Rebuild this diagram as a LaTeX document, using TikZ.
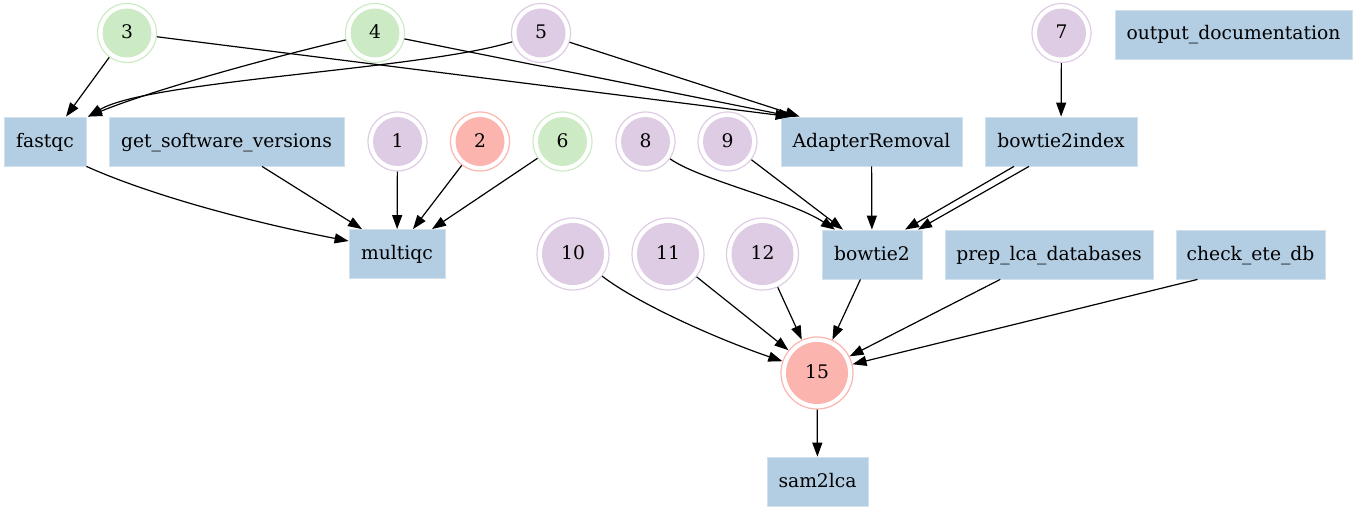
\documentclass[tikz,border=0pt]{standalone}
\usepackage{fontspec}
\setmainfont{DejaVu Serif}
\usetikzlibrary{arrows.meta,calc}
\definecolor{cgreen}{HTML}{CCEBC5}
\definecolor{cpurple}{HTML}{DECBE4}
\definecolor{cred}{HTML}{FBB4AE}
\definecolor{cblue}{HTML}{B3CDE3}
\begin{document}
\begin{tikzpicture}[x=1pt,y=-1pt,
  font=\fontsize{18.7}{22}\selectfont,
  box/.style={rectangle, fill=cblue, draw=cblue!60!white, line width=0.8pt, minimum height=49pt, inner sep=0pt, text height=14pt, text depth=3pt},
  sc/.style={circle, draw=#1, line width=1.2pt, minimum size=59pt, inner sep=0pt, text height=14pt, text depth=3pt,
    path picture={\fill[#1] (path picture bounding box.center) circle (24.5pt);}},
  bc/.style={circle, draw=#1, line width=1.2pt, minimum size=72pt, inner sep=0pt, text height=14pt, text depth=3pt,
    path picture={\fill[#1] (path picture bounding box.center) circle (31pt);}},
  arr/.style={-{Triangle[length=14pt,width=10pt]}, line width=1.2pt}]
\useasboundingbox (0,0) rectangle (1357,511);
% nodes
\node[sc=cgreen] (n3) at (127,33) {3};
\node[sc=cgreen] (n4) at (375,33) {4};
\node[sc=cpurple] (n5) at (541,33) {5};
\node[sc=cpurple] (n7) at (1061.5,33) {7};
\node[box, minimum width=237pt] (od) at (1233.5,34.5) {output\_documentation};
\node[box, minimum width=82pt] (fastqc) at (45,141.5) {fastqc};
\node[box, minimum width=235pt] (gsv) at (226.5,141.5) {get\_software\_versions};
\node[sc=cpurple] (n1) at (397.5,141.5) {1};
\node[sc=cred] (n2) at (480,141.5) {2};
\node[sc=cgreen] (n6) at (562.5,141.5) {6};
\node[sc=cpurple] (n8) at (645.5,141.5) {8};
\node[sc=cpurple] (n9) at (727.5,141.5) {9};
\node[box, minimum width=181pt] (ar) at (871.5,141.5) {AdapterRemoval};
\node[box, minimum width=152pt] (b2i) at (1061,141.5) {bowtie2index};
\node[box, minimum width=96pt] (mqc) at (397,254) {multiqc};
\node[bc=cpurple] (n10) at (573,254) {10};
\node[bc=cpurple] (n11) at (668,254) {11};
\node[bc=cpurple] (n12) at (762.5,254) {12};
\node[box, minimum width=100pt] (bt2) at (872,254.5) {bowtie2};
\node[box, minimum width=208pt] (prep) at (1049,254.5) {prep\_lca\_databases};
\node[box, minimum width=149pt] (ete) at (1250.5,254.5) {check\_ete\_db};
\node[bc=cred] (n15) at (817,373) {15};
\node[box, minimum width=101pt] (s2l) at (817.5,481.5) {sam2lca};
% edges
\draw[arr] (n3) -- ([xshift=21pt]fastqc.north);
\draw[arr] (n3) -- ([xshift=9pt]ar.north west);
\draw[arr] (n4) .. controls (240,65) and (140,95) .. ([xshift=43pt]fastqc.north);
\draw[arr] (n4) -- ([xshift=12pt]ar.north west);
\draw[arr] (n5) .. controls (420,70) and (150,80) .. ([xshift=43pt]fastqc.north);
\draw[arr] (n5) -- ([xshift=19pt]ar.north west);
\draw[arr] (n7) -- (b2i);
\draw[arr] (fastqc.south east) .. controls (150,195) and (250,222) .. (mqc.165);
\draw[arr] ([xshift=35.5pt]gsv.south) -- ([xshift=-35pt]mqc.north);
\draw[arr] (n1) -- (mqc);
\draw[arr] (n2) -- ([xshift=16pt]mqc.north);
\draw[arr] (n6) -- ([xshift=35pt]mqc.north);
\draw[arr] (n8) .. controls (700,180) and (790,200) .. ([xshift=-37pt]bt2.north);
\draw[arr] (n9) -- ([xshift=-29pt]bt2.north);
\draw[arr] (ar) -- (bt2);
\draw[arr] ([xshift=-47pt]b2i.south) -- ([xshift=33pt]bt2.north);
\draw[arr] ([xshift=-32pt]b2i.south) -- ([xshift=46pt]bt2.north);
\draw[arr] (n10) .. controls (640,305) and (720,340) .. (n15);
\draw[arr] (n11) -- (n15);
\draw[arr] (n12) -- (n15);
\draw[arr] (bt2) -- (n15);
\draw[arr] (prep) -- (n15);
\draw[arr] ([xshift=-53pt]ete.south) -- (n15);
\draw[arr] (n15) -- (s2l);
\end{tikzpicture}
\end{document}
